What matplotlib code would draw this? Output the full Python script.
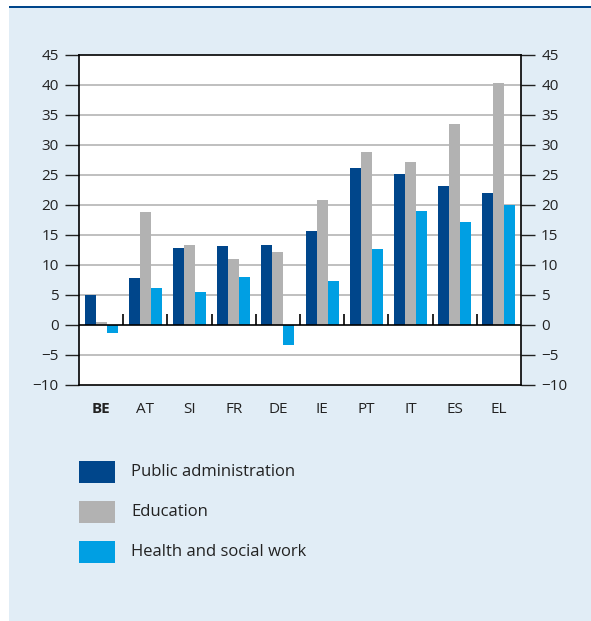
import matplotlib
matplotlib.use("Agg")
import matplotlib.pyplot as plt
from matplotlib.patches import Rectangle
import numpy as np

# -----------------------------
# Data
# -----------------------------
countries = ["BE", "AT", "SI", "FR", "DE", "IE", "PT", "IT", "ES", "EL"]
public_admin = [5.0, 7.8, 12.8, 13.2, 13.3, 15.7, 26.2, 25.2, 23.2, 22.0]
education = [0.5, 18.8, 13.3, 11.0, 12.2, 20.8, 28.8, 27.2, 33.5, 40.3]
health_social = [-1.3, 6.2, 5.5, 8.0, -3.4, 7.3, 12.7, 19.0, 17.2, 20.0]
series_names = ["Public administration", "Education", "Health and social work"]
yticks = list(range(-10, 50, 5))

C_PA = "#00468b"
C_ED = "#b2b2b2"
C_HS = "#009fe3"
BG = "#e1edf6"

plt.rcParams["font.family"] = ["Open Sans", "DejaVu Sans"]

W, H = 591, 621
fig = plt.figure(figsize=(W / 100, H / 100), dpi=100)
fig.patch.set_facecolor("white")

# background panel + top rule
fig.patches.append(Rectangle((9 / W, 0), 1 - 9 / W, (H - 7) / H, transform=fig.transFigure,
                             facecolor=BG, edgecolor="none", zorder=0))
fig.patches.append(Rectangle((9 / W, (H - 8) / H), 1 - 9 / W, 2 / H, transform=fig.transFigure,
                             facecolor="#00468b", edgecolor="none", zorder=1))

ax = fig.add_axes([79 / W, (H - 385) / H, 442 / W, 330 / H])
ax.set_zorder(5)
ax.set_facecolor("white")

x = np.arange(len(countries))
w = 0.25
ax.bar(x - w, public_admin, w, color=C_PA, zorder=3)
ax.bar(x, education, w, color=C_ED, zorder=3)
ax.bar(x + w, health_social, w, color=C_HS, zorder=3)

ax.set_xlim(-0.5, len(countries) - 0.5)
ax.set_ylim(-10, 45)
ax.set_yticks(yticks)
ax.set_yticklabels([str(v).replace("-", "\u2212") for v in yticks])
for v in yticks:
    if v not in (-10, 0, 45):
        ax.axhline(v, color="#b4b4b4", lw=1.2, zorder=1)
ax.axhline(0, color="black", lw=1.2, zorder=4)

# group separators on the zero line
ax.vlines(x[1:] - 0.5, 0, 1.8, color="black", lw=1.2, zorder=4)

ax.tick_params(axis="y", which="both", left=True, right=True, labelleft=True, labelright=True,
               length=10, width=1, labelsize=11, colors="#222222", pad=4.5)
ax.tick_params(axis="x", length=0, pad=12, labelsize=11, colors="#222222")
ax.set_xticks(x)
ax.set_xticklabels(countries)
ax.get_xticklabels()[0].set_fontweight("bold")

for side in ["left", "right", "bottom", "top"]:
    ax.spines[side].set_color("black")
    ax.spines[side].set_linewidth(1.2)

# legend
leg_colors = [C_PA, C_ED, C_HS]
for i, (name, col) in enumerate(zip(series_names, leg_colors)):
    yc = 472 + 40 * i
    fig.patches.append(Rectangle((79 / W, (H - yc - 11) / H), 36 / W, 22 / H,
                                 transform=fig.transFigure, facecolor=col, edgecolor="none", zorder=2))
    fig.text(131 / W, (H - yc) / H, name, fontsize=12, color="#222222", va="center", ha="left")

fig.savefig("out.png", dpi=100, facecolor=fig.get_facecolor())
